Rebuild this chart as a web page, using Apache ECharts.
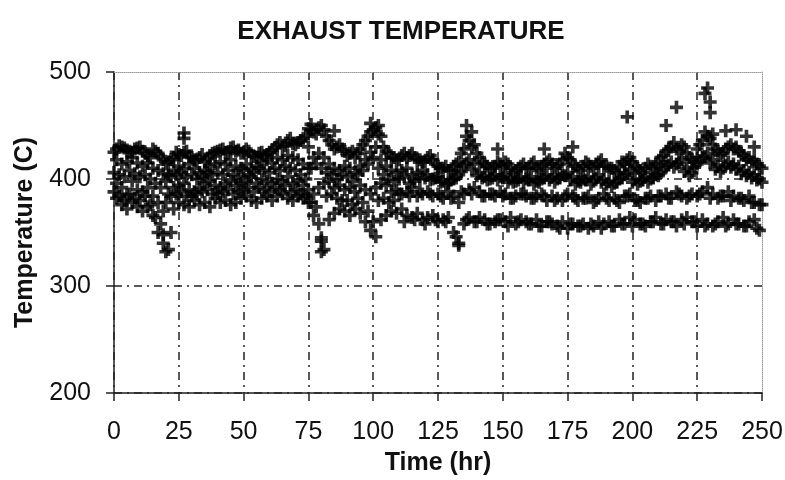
<!DOCTYPE html>
<html>
<head>
<meta charset="utf-8">
<script src="https://cdn.jsdelivr.net/npm/echarts@6/dist/echarts.min.js"></script>
<style>
  html, body { margin: 0; padding: 0; background: #fff; }
  #chart { width: 785px; height: 480px; }
</style>
</head>
<body>
<div id="chart"></div>
<script>
// Sample times (hr): odd-hour and even-hour readings
const oddHours = [
  1,3,5,7,9,11,13,15,17,19,21,23,25,27,29,31,33,35,37,39,41,43,45,47,49,
  51,53,55,57,59,61,63,65,67,69,71,73,75,77,79,81,83,85,87,89,91,93,95,97,99,
  101,103,105,107,109,111,113,115,117,119,121,123,125,127,129,131,133,135,137,139,
  141,143,145,147,149,151,153,155,157,159,161,163,165,167,169,171,173,175,177,179,
  181,183,185,187,189,191,193,195,197,199,201,203,205,207,209,211,213,215,217,219,
  221,223,225,227,229,231,233,235,237,239,241,243,245,247,249
];
const evenHours = [
  0,2,4,6,8,10,12,14,16,18,20,22,24,26,28,30,32,34,36,38,40,42,44,46,48,
  50,52,54,56,58,60,62,64,66,68,70,72,74,76,78,80,82,84,86,88,90,92,94,96,98,
  100,102,104,106,108,110,112,114,116,118,120,122,124,126,128,130,132,134,136,138,
  140,142,144,146,148,150,152,154,156,158,160,162,164,166,168,170,172,174,176,178,
  180,182,184,186,188,190,192,194,196,198,200,202,204,206,208,210,212,214,216,218,
  220,222,224,226,228,230,232,234,236,238,240,242,244,246,248,250
];

// Exhaust temperatures (C) at odd hours, one array per sensor
const tempA = [
  428,430,427,425,429, 426,422,428,424,418, 416,420,423,425,421, 418,420,416,422,425,
  427,425,429,426,424, 428,422,420,425,423, 427,432,430,436,433, 434,438,430,444,448,
  446,436,428,432,426, 424,420,428,436,444, 448,440,426,420,418, 422,420,424,418,416,
  420,418,412,410,408, 412,416,428,436,432, 420,414,410,412,414, 416,410,408,412,410,
  414,410,412,416,414, 412,418,420,414,410, 412,414,410,416,412, 410,408,412,414,420,
  412,408,410,412,414, 420,426,430,428,432, 424,418,428,436,440, 432,426,424,430,428,
  426,422,420,418,412
];
const tempB = [
  418,414,416,420,415, 412,415,410,408,405, 404,408,412,410,414, 410,406,408,412,414,
  416,414,418,412,410, 414,410,412,416,418, 415,420,418,422,420, 418,414,410,420,424,
  420,414,410,408,412, 410,406,412,418,425, 430,418,412,408,406, 408,410,404,406,408,
  404,400,402,398,396, 400,404,412,418,414, 406,402,400,404,402, 404,400,398,402,400,
  402,398,400,404,402, 400,404,406,402,398, 400,402,398,404,400, 398,396,400,404,408,
  400,398,402,400,404, 406,412,416,414,418, 410,406,414,420,424, 418,412,410,416,414,
  412,408,406,404,400
];
const tempC = [
  396,392,385,398,390, 388,392,384,378,370, 386,392,394,396,390, 388,392,396,398,394,
  392,396,398,394,396, 398,402,396,400,398, 396,400,398,402,396, 398,394,390,386,392,
  396,398,392,394,390, 392,388,394,390,386, 392,396,394,388,390, 386,388,392,384,386,
  388,384,386,382,388, 384,378,386,390,392, 388,384,386,384,388, 386,382,384,386,384,
  382,384,386,380,384, 382,380,386,384,380, 382,384,378,382,386, 380,382,378,384,386,
  380,378,382,384,380, 384,386,382,388,384, 382,386,384,388,392, 386,382,384,388,384,
  382,380,384,378,376
];
const tempD = [
  382,376,372,378,374, 370,374,366,350,348, 334,372,378,376,374, 380,376,378,374,382,
  378,380,376,378,382, 384,380,378,382,384, 380,384,386,382,380, 384,382,378,366,358,
  334,362,368,372,370, 366,372,368,360,352, 346,362,366,370,368, 372,366,364,368,362,
  364,366,360,362,364, 350,340,358,364,360, 364,362,358,360,362, 360,364,358,362,360,
  358,362,356,360,358, 356,360,354,358,356, 358,354,356,360,358, 360,356,362,358,364,
  362,358,356,360,364, 358,362,360,356,362, 364,360,356,362,358, 356,360,364,358,362,
  358,356,360,362,352
];

// Exhaust temperatures (C) at even hours
const tempE = [
  425,431,429,426,428, 430,424,420,426,421, 414,418,425,422,426, 420,417,423,419,424,
  426,428,424,430,427, 425,426,421,424,422, 425,429,434,431,438, 432,436,440,446,442,
  450,440,432,430,428, 422,426,424,432,440, 446,442,430,424,420, 418,424,422,420,418,
  416,422,414,410,412, 408,414,424,440,430, 424,416,412,410,416, 412,414,406,410,414,
  410,416,408,414,418, 410,414,424,418,412, 408,416,412,414,418, 412,410,406,416,418,
  416,410,406,414,410, 416,422,428,434,426, 430,420,416,432,444, 438,428,422,428,432,
  430,424,418,416,414, 410
];
const tempF = [
  406,404,402,408,405, 402,404,400,396,392, 398,402,404,406,402, 404,400,402,406,404,
  406,404,408,404,402, 408,404,406,410,408, 406,410,408,412,410, 408,404,400,410,414,
  410,406,404,400,404, 402,398,404,408,414, 420,410,404,400,398, 400,402,396,398,400,
  401,399,401,397,395, 399,401,407,415,409, 403,401,399,401,399, 401,397,397,399,397,
  399,395,397,401,399, 397,401,403,399,395, 397,399,395,401,397, 395,393,397,401,405,
  397,395,399,397,401, 403,409,413,411,415, 407,403,411,417,421, 415,409,407,413,411,
  409,405,403,401,399, 397
];
const tempG = [
  388,384,380,386,382, 380,384,376,364,358, 378,384,386,388,384, 384,386,388,390,386,
  386,388,390,386,388, 390,392,388,392,390, 388,392,390,394,388, 390,386,384,378,374,
  342,384,386,382,380, 380,376,382,378,370, 360,380,382,378,380, 386,360,384,362,388,
  358,386,362,384,360, 382,346,388,362,386, 360,384,358,386,362, 384,356,382,360,386,
  358,382,356,384,360, 380,354,384,358,382, 356,382,358,380,354, 382,356,380,358,384,
  356,380,358,382,360, 384,358,382,360,386, 358,384,360,386,356, 382,358,384,356,380,
  358,382,356,378,354, 376
];

// Isolated readings [hr, C]
const extraPoints = [
  [19,340],[20,332],[22,350],[27,443],[27,438],[75,447],[76,451],[80,345],[80,332],
  [85,445],[99,452],[102,450],[133,338],[136,450],[138,444],[148,428],[166,428],
  [177,430],[198,458],[213,450],[217,467],[228,480],[229,485],[230,472],[230,462],
  [231,442],[236,445],[240,446],[244,440],[247,430]
];

const xTicks = { min: 0, max: 250, interval: 25 };
const yTicks = { min: 200, max: 500, interval: 100 };

// Plus-sign marker with thick arms
const PLUS = 'path://M3.6,0H6.4V3.6H10V6.4H6.4V10H3.6V6.4H0V3.6H3.6Z';
const INK = '#000';
const FONT = '"Liberation Sans", Arial, sans-serif';

function pairs(times, vals) { return times.map((h, i) => [h, vals[i]]); }

function scatter(data) {
  return {
    type: 'scatter', xAxisIndex: 0, yAxisIndex: 0, data: data,
    symbol: PLUS, symbolSize: 13, itemStyle: { color: INK },
    silent: true, animation: false
  };
}

// Grid lines: dash-dot, the last one replaced by the dotted frame
const xGridColors = Array.from({ length: 11 }, (_, i) => i === 10 ? 'rgba(0,0,0,0)' : '#222');
const yGridColors = ['#222', '#222', '#222', 'rgba(0,0,0,0)'];
const dashDot = [8, 5, 2, 5];

const chart = echarts.init(document.getElementById('chart'), null, { renderer: 'canvas' });
chart.setOption({
  animation: false,
  backgroundColor: '#fff',
  title: {
    text: 'EXHAUST TEMPERATURE', left: 396, top: 14, textAlign: 'center',
    textStyle: { fontFamily: FONT, fontWeight: 'bold', fontSize: 26, color: '#111' }
  },
  grid: { left: 114, right: 23, top: 72, bottom: 87, outerBoundsMode: 'none', containLabel: false },
  xAxis: [{
    type: 'value', min: xTicks.min, max: xTicks.max, interval: xTicks.interval,
    name: 'Time (hr)', nameLocation: 'middle', nameGap: 58,
    nameTextStyle: { fontFamily: FONT, fontWeight: 'bold', fontSize: 25, color: '#111' },
    axisLine: { show: true, onZero: false, lineStyle: { color: '#222', width: 1.5 } },
    axisTick: { show: true, length: 8, lineStyle: { color: '#222', width: 1.5 } },
    axisLabel: { margin: 27, fontFamily: FONT, fontSize: 25, color: '#111' },
    splitLine: { show: true, lineStyle: { color: xGridColors, width: 1.5, type: dashDot } }
  }, {
    type: 'value', position: 'top', min: xTicks.min, max: xTicks.max,
    axisLine: { show: true, onZero: false, lineStyle: { color: '#999', width: 1, type: 'dotted' } },
    axisTick: { show: false }, axisLabel: { show: false }, splitLine: { show: false }
  }],
  yAxis: [{
    type: 'value', min: yTicks.min, max: yTicks.max, interval: yTicks.interval,
    name: 'Temperature (C)', nameLocation: 'middle', nameGap: 76, nameRotate: 90,
    nameTextStyle: { fontFamily: FONT, fontWeight: 'bold', fontSize: 25, color: '#111' },
    axisLine: { show: true, onZero: false, lineStyle: { color: '#222', width: 1.5 } },
    axisTick: { show: true, length: 8, lineStyle: { color: '#222', width: 1.5 } },
    axisLabel: { margin: 23, fontFamily: FONT, fontSize: 25, color: '#111' },
    splitLine: { show: true, lineStyle: { color: yGridColors, width: 1.5, type: dashDot } }
  }, {
    type: 'value', position: 'right', min: yTicks.min, max: yTicks.max,
    axisLine: { show: true, onZero: false, lineStyle: { color: '#999', width: 1, type: 'dotted' } },
    axisTick: { show: false }, axisLabel: { show: false }, splitLine: { show: false }
  }],
  series: [
    scatter(pairs(oddHours, tempA)),
    scatter(pairs(oddHours, tempB)),
    scatter(pairs(oddHours, tempC)),
    scatter(pairs(oddHours, tempD)),
    scatter(pairs(evenHours, tempE)),
    scatter(pairs(evenHours, tempF)),
    scatter(pairs(evenHours, tempG)),
    scatter(extraPoints)
  ]
});
</script>
</body>
</html>
